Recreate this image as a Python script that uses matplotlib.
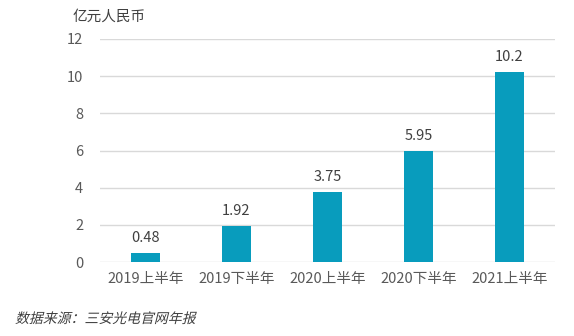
import matplotlib
matplotlib.use("Agg")
import matplotlib.pyplot as plt
from matplotlib.textpath import TextPath
from matplotlib.font_manager import FontProperties
from matplotlib.patches import PathPatch
from matplotlib.transforms import Affine2D

plt.rcParams['font.family'] = ['Noto Sans CJK SC', 'DejaVu Sans']

periods = ["2019上半年", "2019下半年", "2020上半年", "2020下半年", "2021上半年"]
revenue = [0.48, 1.92, 3.75, 5.95, 10.2]
value_labels = ["0.48", "1.92", "3.75", "5.95", "10.2"]
yticks = [0, 2, 4, 6, 8, 10, 12]

BAR = "#089cbd"
TXT = "#595959"
DPI = 100

fig = plt.figure(figsize=(5.74, 3.36), dpi=DPI)
ax = fig.add_axes([0.174, 0.220, 0.793, 0.664])

x = range(len(periods))
bars = ax.bar(x, revenue, width=0.31, color=BAR, zorder=3)
for b, lbl in zip(bars, value_labels):
    ax.annotate(lbl, (b.get_x() + b.get_width() / 2, b.get_height()),
                xytext=(0, 6), textcoords="offset points",
                ha="center", va="bottom", fontsize=10.5, color="#404040",
                fontweight="light")

ax.set_xlim(-0.5, len(periods) - 0.5)
ax.set_ylim(0, 12)
ax.set_yticks(yticks)
ax.set_xticks(list(x))
ax.set_xticklabels(periods)
ax.tick_params(axis="both", length=0, labelsize=10.5, labelcolor=TXT)
ax.tick_params(axis="y", pad=12)
ax.tick_params(axis="x", pad=7)
for t in ax.get_xticklabels() + ax.get_yticklabels():
    t.set_fontweight("light")
ax.grid(axis="y", color="#d9d9d9", linewidth=1, zorder=0)
for s in ax.spines.values():
    s.set_visible(False)

fig.text(73 / 574, 1 - 17 / 336, "亿元人民币", ha="left", va="center",
         fontsize=10.5, color="#404040")

# source note, slanted (CJK font has no italic face)
src = TextPath((0, 0), "数据来源：三安光电官网年报", size=10,
               prop=FontProperties(family="Noto Sans CJK SC"))
tr = Affine2D().skew_deg(14, 0).scale(DPI / 72).translate(15, 336 - 323)
fig.add_artist(PathPatch(src, transform=tr, facecolor="#404040",
                         edgecolor="none"))

fig.savefig("out.png", dpi=DPI)
